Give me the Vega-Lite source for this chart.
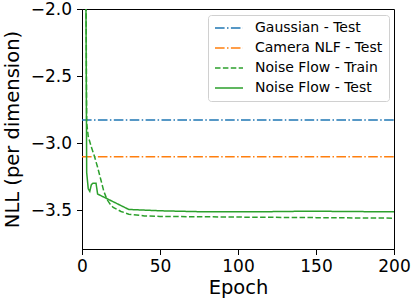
{
  "$schema": "https://vega.github.io/schema/vega-lite/v6.json",
  "width": 312,
  "height": 240,
  "autosize": "none",
  "padding": {"left": 82, "top": 9, "right": 21, "bottom": 52},
  "background": "white",
  "config": {
    "font": "DejaVu Sans",
    "view": {"stroke": "black", "strokeWidth": 1},
    "axis": {
      "grid": false,
      "domainColor": "black",
      "tickColor": "black",
      "tickSize": 5.5,
      "tickWidth": 1,
      "labelFontSize": 17,
      "labelColor": "black",
      "titleFontSize": 19.5,
      "titleFontWeight": "normal",
      "titleColor": "black",
      "labelFlush": false,
      "labelBound": false,
      "labelOverlap": false
    },
    "legend": {
      "title": null,
      "padding": 6,
      "strokeColor": "#d0d0d0",
      "fillColor": "white",
      "cornerRadius": 3,
      "labelFontSize": 14,
      "labelColor": "black",
      "labelOffset": 11,
      "rowPadding": 6,
      "symbolType": "stroke",
      "symbolSize": 784,
      "symbolStrokeWidth": 1.5,
      "clipHeight": 14
    }
  },
  "data": {
    "values": [
      {"epoch": 0, "nll": -2.828, "series": "Gaussian - Test"},
      {"epoch": 200, "nll": -2.828, "series": "Gaussian - Test"},
      {"epoch": 0, "nll": -3.102, "series": "Camera NLF - Test"},
      {"epoch": 200, "nll": -3.102, "series": "Camera NLF - Test"},
      {"epoch": 2, "nll": -0.5, "series": "Noise Flow - Train"},
      {"epoch": 3, "nll": -2.85, "series": "Noise Flow - Train"},
      {"epoch": 4, "nll": -2.95, "series": "Noise Flow - Train"},
      {"epoch": 6, "nll": -3.03, "series": "Noise Flow - Train"},
      {"epoch": 8, "nll": -3.1, "series": "Noise Flow - Train"},
      {"epoch": 10, "nll": -3.18, "series": "Noise Flow - Train"},
      {"epoch": 12, "nll": -3.27, "series": "Noise Flow - Train"},
      {"epoch": 14, "nll": -3.36, "series": "Noise Flow - Train"},
      {"epoch": 16, "nll": -3.42, "series": "Noise Flow - Train"},
      {"epoch": 18, "nll": -3.455, "series": "Noise Flow - Train"},
      {"epoch": 20, "nll": -3.48, "series": "Noise Flow - Train"},
      {"epoch": 25, "nll": -3.51, "series": "Noise Flow - Train"},
      {"epoch": 30, "nll": -3.53, "series": "Noise Flow - Train"},
      {"epoch": 40, "nll": -3.543, "series": "Noise Flow - Train"},
      {"epoch": 50, "nll": -3.547, "series": "Noise Flow - Train"},
      {"epoch": 100, "nll": -3.552, "series": "Noise Flow - Train"},
      {"epoch": 150, "nll": -3.556, "series": "Noise Flow - Train"},
      {"epoch": 200, "nll": -3.56, "series": "Noise Flow - Train"},
      {"epoch": 2, "nll": -0.5, "series": "Noise Flow - Test"},
      {"epoch": 3, "nll": -3.22, "series": "Noise Flow - Test"},
      {"epoch": 4, "nll": -3.34, "series": "Noise Flow - Test"},
      {"epoch": 5, "nll": -3.36, "series": "Noise Flow - Test"},
      {"epoch": 6, "nll": -3.31, "series": "Noise Flow - Test"},
      {"epoch": 7, "nll": -3.3, "series": "Noise Flow - Test"},
      {"epoch": 9, "nll": -3.3, "series": "Noise Flow - Test"},
      {"epoch": 10, "nll": -3.38, "series": "Noise Flow - Test"},
      {"epoch": 30, "nll": -3.495, "series": "Noise Flow - Test"},
      {"epoch": 50, "nll": -3.505, "series": "Noise Flow - Test"},
      {"epoch": 80, "nll": -3.513, "series": "Noise Flow - Test"},
      {"epoch": 110, "nll": -3.513, "series": "Noise Flow - Test"},
      {"epoch": 145, "nll": -3.508, "series": "Noise Flow - Test"},
      {"epoch": 200, "nll": -3.513, "series": "Noise Flow - Test"}
    ]
  },
  "mark": {"type": "line", "clip": true, "strokeWidth": 1.5},
  "encoding": {
    "x": {
      "field": "epoch",
      "type": "quantitative",
      "scale": {"domain": [0, 200], "nice": false, "zero": false},
      "axis": {"title": "Epoch", "values": [0, 50, 100, 150, 200], "format": "d", "labelPadding": 4, "titlePadding": 4}
    },
    "y": {
      "field": "nll",
      "type": "quantitative",
      "scale": {"domain": [-3.79, -2.0], "nice": false, "zero": false},
      "axis": {"title": "NLL (per dimension)", "values": [-3.5, -3.0, -2.5, -2.0], "format": ".1f", "labelPadding": 5, "titlePadding": 8}
    },
    "color": {
      "field": "series",
      "type": "nominal",
      "scale": {
        "domain": ["Gaussian - Test", "Camera NLF - Test", "Noise Flow - Train", "Noise Flow - Test"],
        "range": ["#1f77b4", "#ff7f0e", "#2ca02c", "#2ca02c"]
      },
      "legend": {"orient": "none", "legendX": 126, "legendY": 6}
    },
    "strokeDash": {
      "field": "series",
      "type": "nominal",
      "scale": {
        "domain": ["Gaussian - Test", "Camera NLF - Test", "Noise Flow - Train", "Noise Flow - Test"],
        "range": [[9.6, 2.4, 1.5, 2.4], [9.6, 2.4, 1.5, 2.4], [5.5, 2.4], [1, 0]]
      },
      "legend": {"orient": "none", "legendX": 126, "legendY": 6}
    }
  }
}
